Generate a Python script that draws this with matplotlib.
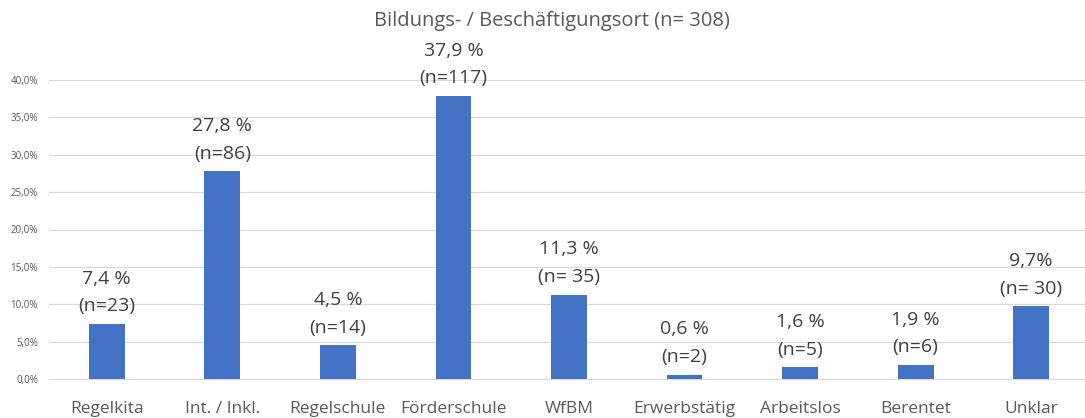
import numpy as np
import matplotlib
matplotlib.use("Agg")
import matplotlib.pyplot as plt
from matplotlib.ticker import FuncFormatter

# data
categories = ["Regelkita", "Int. / Inkl.", "Regelschule", "Förderschule", "WfBM",
              "Erwerbstätig", "Arbeitslos", "Berentet", "Unklar"]
shares = [0.074, 0.278, 0.045, 0.379, 0.113, 0.006, 0.016, 0.019, 0.097]
pct_labels = ["7,4 %", "27,8 %", "4,5 %", "37,9 %", "11,3 %", "0,6 %", "1,6 %", "1,9 %", "9,7%"]
n_labels = ["(n=23)", "(n=86)", "(n=14)", "(n=117)", "(n= 35)", "(n=2)", "(n=5)", "(n=6)", "(n= 30)"]
title = "Bildungs- / Beschäftigungsort (n= 308)"

plt.rcParams['font.family'] = ['Open Sans', 'DejaVu Sans']
txt = "#595959"

W, H = 1085, 418
fig = plt.figure(figsize=(W / 100, H / 100), dpi=100)
# axes spans px 49..1089 horizontally, 80..379 vertically
ax = fig.add_axes([49 / W, (H - 379) / H, 1040 / W, 299 / H])

x = np.arange(len(categories))
ax.bar(x, shares, width=0.31, color="#4472C4", zorder=3)

for xi, v, p, n in zip(x, shares, pct_labels, n_labels):
    ax.annotate(p + "\n" + n, (xi, v), xytext=(0, 6), textcoords="offset points",
                ha="center", va="bottom", fontsize=14, color="#404040",
                linespacing=1.7, annotation_clip=False)

ax.set_xlim(-0.5, len(categories) - 0.5)
ax.set_ylim(0, 0.40)
ax.set_yticks(np.arange(0, 0.401, 0.05))
ax.yaxis.set_major_formatter(FuncFormatter(lambda v, _: f"{v*100:.1f}%".replace(".", ",")))
ax.set_xticks(x)
ax.set_xticklabels(categories, fontsize=12.5, color=txt)
ax.tick_params(axis="y", labelsize=7, colors=txt, length=0, pad=8)
ax.tick_params(axis="x", length=0, pad=16)
ax.grid(axis="y", color="#D9D9D9", linewidth=0.8, zorder=0)
for s in ["top", "right", "left"]:
    ax.spines[s].set_visible(False)
ax.spines["bottom"].set_color("#D9D9D9")

fig.text(552 / W, 1 - 21 / H, title, ha="center", va="center", fontsize=14.5, color=txt)

fig.savefig("out.png", dpi=100)
